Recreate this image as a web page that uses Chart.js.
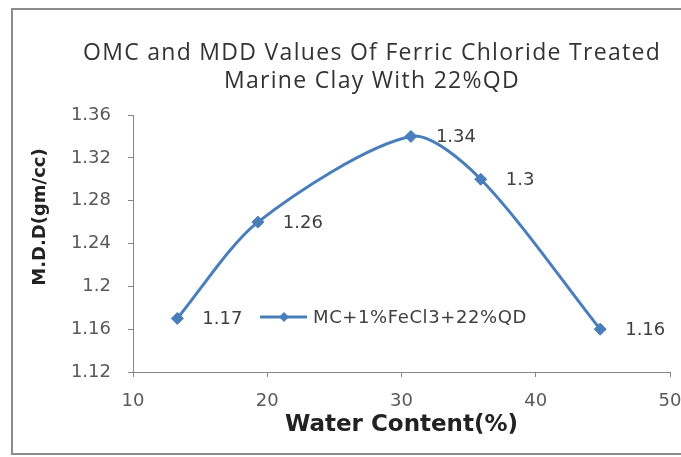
<!DOCTYPE html>
<html lang="en">
<head>
  <meta charset="UTF-8">
  <title>OMC and MDD</title>
  <style>
    html, body { margin: 0; padding: 0; background: #fff; }
    .wrap { position: relative; width: 681px; height: 457px; }
  </style>
</head>
<body>
  <div class="wrap">
    <canvas id="chart" width="681" height="457"></canvas>
  </div>
  <script src="https://cdn.jsdelivr.net/npm/chart.js@4/dist/chart.umd.min.js"></script>
  <script>
    const waterContent = [13.3, 19.3, 30.7, 35.9, 44.8];
    const mdd = [1.17, 1.26, 1.34, 1.30, 1.16];
    const seriesName = 'MC+1%FeCl3+22%QD';
    const xTicks = [10, 20, 30, 40, 50];
    const yTicks = [1.12, 1.16, 1.2, 1.24, 1.28, 1.32, 1.36];
    const titleLines = ['OMC and MDD Values Of Ferric Chloride Treated', 'Marine Clay With 22%QD'];

    const blue = '#4a7ebb';
    const axisGray = '#868686';
    const textGray = '#595959';

    const extras = {
      id: 'extras',
      beforeDraw(chart) {
        const ctx = chart.ctx;
        ctx.save();
        ctx.fillStyle = '#fff';
        ctx.fillRect(0, 0, chart.width, chart.height);
        ctx.strokeStyle = '#8c8c8c';
        ctx.lineWidth = 2;
        ctx.strokeRect(12, 9, 720, 445);
        ctx.restore();
      },
      afterDraw(chart) {
        const ctx = chart.ctx;
        ctx.save();
        // title
        ctx.fillStyle = '#333';
        ctx.font = '23px "Open Sans"';
        ctx.letterSpacing = '1.3px';
        ctx.textAlign = 'center';
        ctx.textBaseline = 'middle';
        titleLines.forEach((t, i) => ctx.fillText(t, 372, 53 + i * 28));
        ctx.letterSpacing = '0px';

        // y title
        ctx.save();
        ctx.translate(40, 217);
        ctx.rotate(-Math.PI / 2);
        ctx.font = 'bold 18px "DejaVu Sans"';
        ctx.fillStyle = '#222';
        ctx.fillText('M.D.D(gm/cc)', 0, 0);
        ctx.restore();

        // data labels
        const meta = chart.getDatasetMeta(0);
        ctx.font = '18px "DejaVu Sans"';
        ctx.fillStyle = '#404040';
        ctx.textAlign = 'left';
        meta.data.forEach((pt, i) => {
          ctx.fillText(String(mdd[i]), pt.x + 25, pt.y + 1);
        });

        // legend
        const ly = 317;
        ctx.strokeStyle = blue;
        ctx.lineWidth = 3;
        ctx.beginPath();
        ctx.moveTo(260, ly);
        ctx.lineTo(307, ly);
        ctx.stroke();
        ctx.fillStyle = blue;
        ctx.beginPath();
        ctx.moveTo(284, ly - 5);
        ctx.lineTo(289, ly);
        ctx.lineTo(284, ly + 5);
        ctx.lineTo(279, ly);
        ctx.closePath();
        ctx.fill();
        ctx.fillStyle = '#404040';
        ctx.letterSpacing = '0.6px';
        ctx.fillText(seriesName, 313, ly + 1);
        ctx.restore();
      }
    };

    new Chart(document.getElementById('chart'), {
      type: 'line',
      data: {
        datasets: [{
          label: seriesName,
          data: waterContent.map((x, i) => ({ x, y: mdd[i] })),
          borderColor: blue,
          backgroundColor: blue,
          borderWidth: 3,
          pointStyle: 'rectRot',
          pointRadius: 6,
          pointBorderWidth: 1,
          tension: 0.28,
          fill: false
        }]
      },
      options: {
        responsive: false,
        animation: false,
        layout: { padding: { top: 115, right: 11, left: 0, bottom: 0 } },
        plugins: {
          legend: { display: false },
          tooltip: { enabled: false }
        },
        scales: {
          x: {
            type: 'linear',
            min: 10,
            max: 50,
            afterBuildTicks: (s) => { s.ticks = xTicks.map(v => ({ value: v })); },
            afterFit: (s) => { s.height = 85; s.paddingLeft = 0; s.paddingRight = 0; },
            grid: { drawOnChartArea: false, tickLength: 5, color: axisGray },
            border: { color: axisGray },
            ticks: { color: textGray, padding: 14, font: { family: 'DejaVu Sans', size: 18 } },
            title: {
              display: true,
              text: 'Water Content(%)',
              color: '#222',
              font: { family: 'DejaVu Sans', size: 23, weight: 'bold' },
              padding: { top: 0, bottom: 18 }
            }
          },
          y: {
            min: 1.12,
            max: 1.36,
            afterBuildTicks: (s) => { s.ticks = yTicks.map(v => ({ value: v })); },
            afterFit: (s) => { s.width = 133; },
            grid: { drawOnChartArea: false, tickLength: 5, color: axisGray },
            border: { color: axisGray },
            ticks: {
              color: textGray,
              padding: 17,
              font: { family: 'DejaVu Sans', size: 18 },
              callback: (v) => String(Number(v.toFixed(2)))
            }
          }
        }
      },
      plugins: [extras]
    });
  </script>
</body>
</html>
